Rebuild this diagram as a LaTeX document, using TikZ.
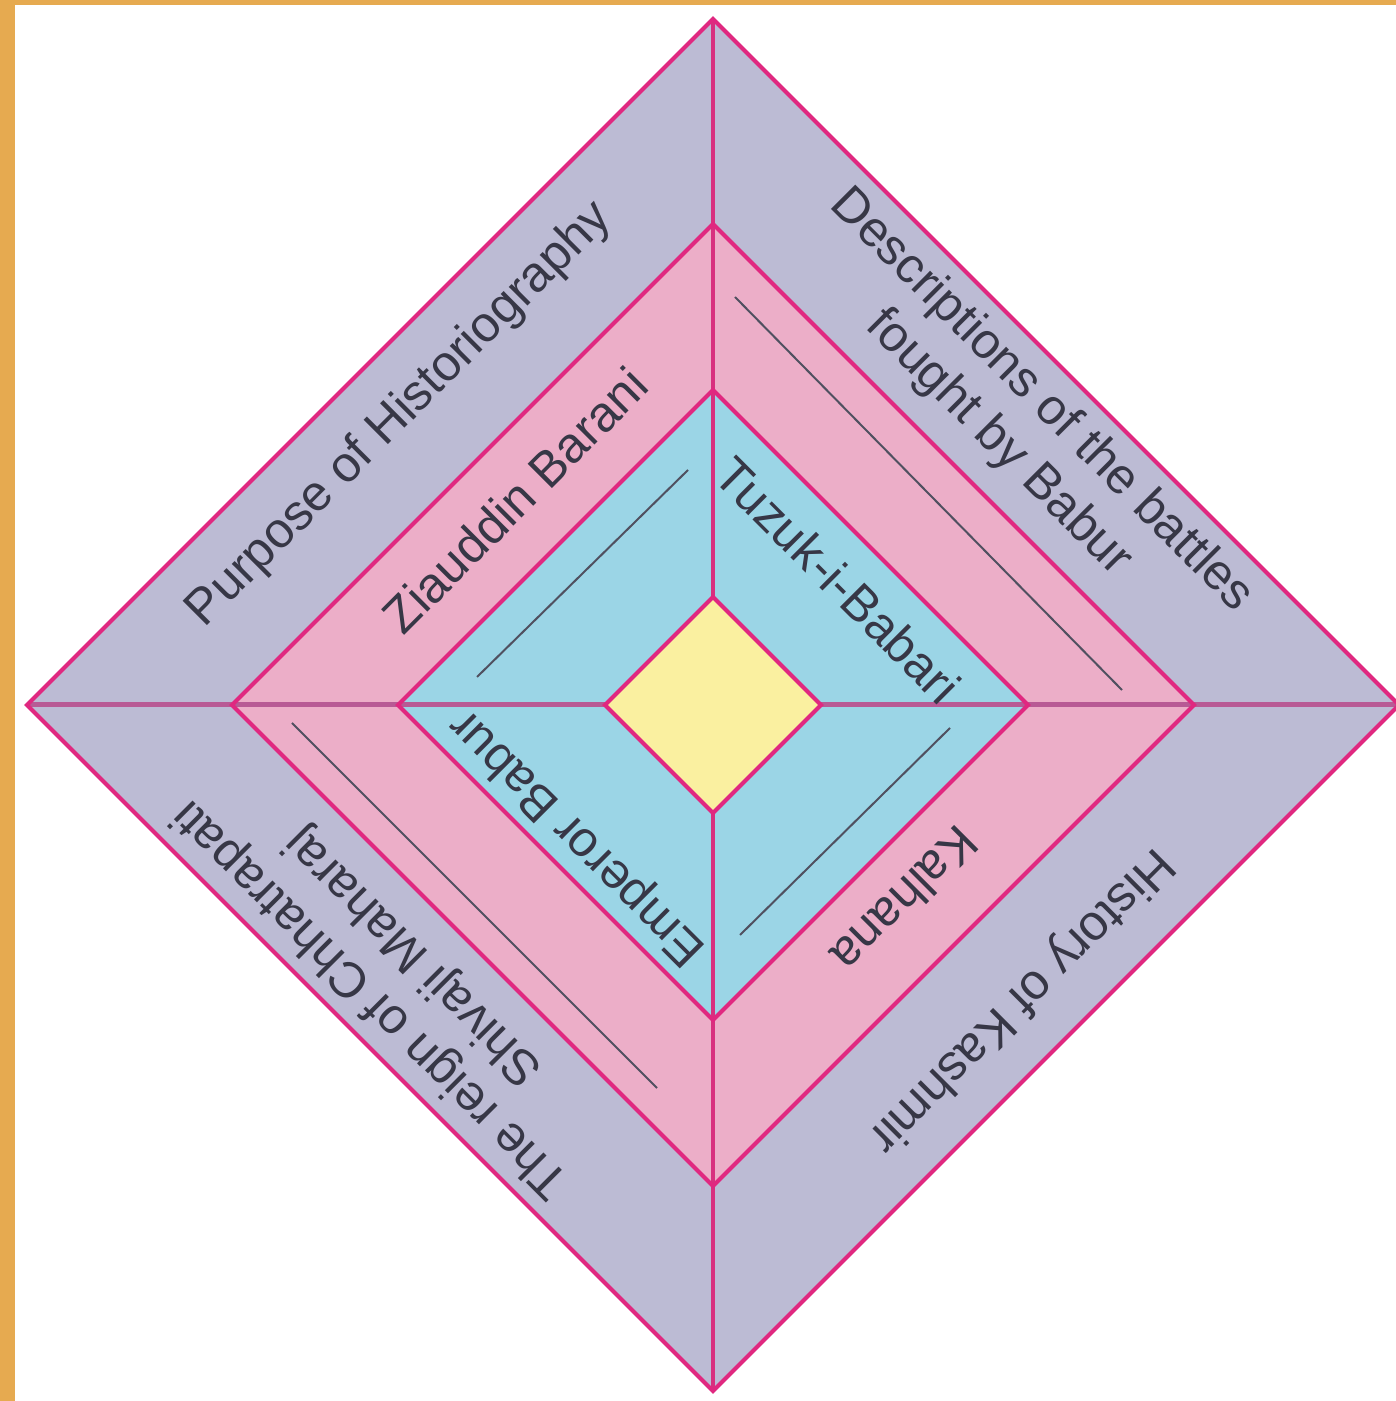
\documentclass[tikz,border=0pt]{standalone}
\usepackage{fontspec}
\setmainfont{Liberation Sans}
\definecolor{grayc}{HTML}{BCBBD4}
\definecolor{pinkc}{HTML}{ECAEC8}
\definecolor{bluec}{HTML}{9BD5E6}
\definecolor{yelc}{HTML}{FAF0A0}
\definecolor{edgec}{HTML}{E02880}
\definecolor{vlinec}{HTML}{D8307F}
\definecolor{hlinec}{HTML}{B85A95}
\definecolor{txtc}{HTML}{373746}
\definecolor{blankc}{HTML}{505060}
\definecolor{framec}{HTML}{E6AA50}
\begin{document}
\begin{tikzpicture}[x=1pt,y=1pt,
  border/.style={draw=edgec, line width=4pt, line join=miter},
  vcross/.style={draw=vlinec, line width=4.5pt},
  hcross/.style={draw=hlinec, line width=5pt},
  lbl/.style={font=\fontsize{50}{60}\selectfont, text=txtc, align=center, inner sep=0pt},
  blank/.style={draw=blankc, line width=2pt}]
\useasboundingbox (0,0) rectangle (1396,1401);
\fill[white] (0,0) rectangle (1396,1401);
\fill[framec] (0,0) rectangle (15,1401);
\fill[framec] (0,1396) rectangle (1396,1401);
\begin{scope}[shift={(713,696)}]
  % corner coordinates of the nested diamonds
  \foreach \n/\r in {o/686,p/481,b/315,y/108}{
    \coordinate (\n-t) at (0,\r);
    \coordinate (\n-r) at (\r,0);
    \coordinate (\n-b) at (0,-\r);
    \coordinate (\n-l) at (-\r,0);
  }
  % fills
  \fill[grayc] (o-t) -- (o-r) -- (o-b) -- (o-l) -- cycle;
  \fill[pinkc] (p-t) -- (p-r) -- (p-b) -- (p-l) -- cycle;
  \fill[bluec] (b-t) -- (b-r) -- (b-b) -- (b-l) -- cycle;
  % dividing cross
  \draw[hcross] (o-l) -- (o-r);
  \draw[vcross] (o-t) -- (o-b);
  % borders
  \draw[border] (o-t) -- (o-r) -- (o-b) -- (o-l) -- cycle;
  \draw[border] (p-t) -- (p-r) -- (p-b) -- (p-l) -- cycle;
  \draw[border] (b-t) -- (b-r) -- (b-b) -- (b-l) -- cycle;
  \filldraw[border, fill=yelc] (y-t) -- (y-r) -- (y-b) -- (y-l) -- cycle;
  % blank answer lines
  \coordinate (l1a) at (-236,28);  \coordinate (l1b) at (-25,235);
  \coordinate (l2a) at (22,408);   \coordinate (l2b) at (409,15);
  \coordinate (l3a) at (27,-230);  \coordinate (l3b) at (237,-23);
  \coordinate (l4a) at (-421,-18); \coordinate (l4b) at (-56,-383);
  \draw[blank] (l1a) -- (l1b);
  \draw[blank] (l2a) -- (l2b);
  \draw[blank] (l3a) -- (l3b);
  \draw[blank] (l4a) -- (l4b);
  % labels
  \node[lbl, rotate=45] (purpose) at (-313,290) {Purpose of Historiography};
  \node[lbl, rotate=45] (barani) at (-198,205) {Ziauddin Barani};
  \node[lbl, rotate=-45] (descr) at (307,283) {Descriptions of the battles\\fought by Babur};
  \node[lbl, rotate=-45] (tuzuk) at (125,125) {Tuzuk-i-Babari};
  \node[lbl, rotate=225] (kashmir) at (307,-295) {History of Kashmir};
  \node[lbl, rotate=225] (kalhana) at (192,-195) {Kalhana};
  \node[lbl, rotate=135] (reign) at (-320,-272) {The reign of Chhatrapati\\Shivaji Maharaj};
  \node[lbl, rotate=135] (babur) at (-135,-132) {Emperor Babur};
\end{scope}
\end{tikzpicture}
\end{document}
